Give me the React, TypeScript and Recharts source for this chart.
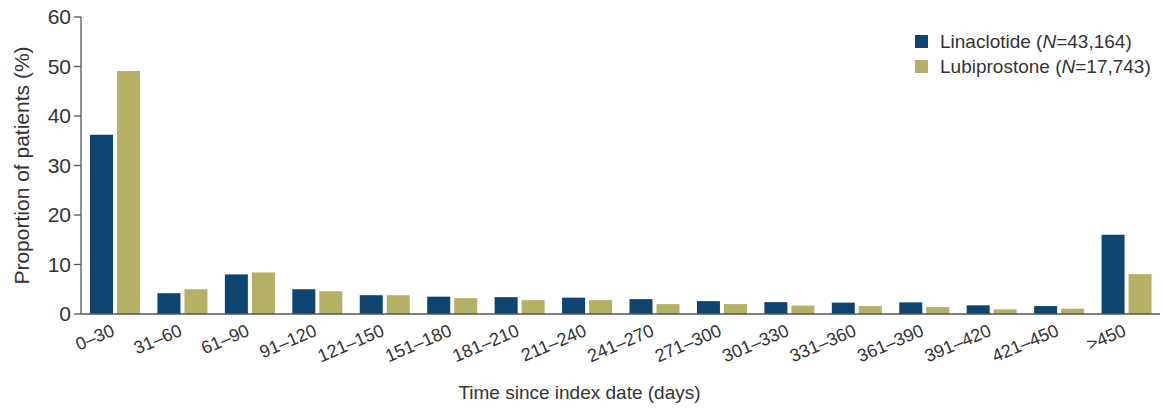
import React from 'react';
import { BarChart, Bar, XAxis, YAxis, Label } from 'recharts';

// Time since index date (days)
const categories = [
  '0–30', '31–60', '61–90', '91–120', '121–150', '151–180', '181–210', '211–240',
  '241–270', '271–300', '301–330', '331–360', '361–390', '391–420', '421–450', '>450'
];

// Proportion of patients (%)
const linaclotide = [36.2, 4.2, 8.0, 5.0, 3.8, 3.5, 3.4, 3.3, 3.0, 2.6, 2.4, 2.3, 2.35, 1.75, 1.6, 16.0];
const lubiprostone = [49.1, 5.0, 8.4, 4.6, 3.8, 3.2, 2.8, 2.8, 2.0, 2.0, 1.7, 1.6, 1.4, 0.95, 1.07, 8.06];

const yTicks = [0, 10, 20, 30, 40, 50, 60];

const BLUE = '#0d4470';
const OLIVE = '#b4b065';
const TEXT = '#333333';
const AXIS = '#555555';
const FONT = '"Liberation Sans", Arial, sans-serif';

const data = categories.map((name, i) => ({
  name,
  linaclotide: linaclotide[i],
  lubiprostone: lubiprostone[i]
}));

const legendItems = [
  { color: BLUE, name: 'Linaclotide', n: '43,164' },
  { color: OLIVE, name: 'Lubiprostone', n: '17,743' }
];

// slanted category labels, end of the text sits near the group centre
const SlantTick = ({ x, payload }: any) => (
  <g transform={`translate(${x + 1},${335})`}>
    <text
      x={0}
      y={0}
      textAnchor="end"
      transform="rotate(-23)"
      fill={TEXT}
      fontSize={18}
      fontFamily={FONT}
    >
      {payload.value}
    </text>
  </g>
);

const App: React.FC = () => {
  return (
    <div style={{ position: 'absolute', left: 0, top: 0, width: 1163, height: 408, background: '#fff' }}>
      <BarChart
        width={1163}
        height={408}
        data={data}
        margin={{ top: 17, right: 3, left: 0, bottom: 0 }}
        barSize={23}
        barGap={4}
      >
        <XAxis
          dataKey="name"
          height={94}
          tickLine={false}
          stroke={AXIS}
          strokeWidth={1.3}
          interval={0}
          tick={<SlantTick />}
        >
          <Label
            value="Time since index date (days)"
            position="center"
            dx={-41}
            dy={31}
            style={{ fill: TEXT, fontSize: 19, fontFamily: FONT }}
          />
        </XAxis>
        <YAxis
          width={81}
          domain={[0, 60]}
          ticks={yTicks}
          interval={0}
          tickSize={7}
          tickMargin={3}
          stroke={AXIS}
          strokeWidth={1.3}
          tick={{ fill: TEXT, fontSize: 21, fontFamily: FONT }}
        >
          <Label
            value="Proportion of patients (%)"
            angle={-90}
            position="center"
            dx={-19}
            style={{ fill: TEXT, fontSize: 21, fontFamily: FONT, textAnchor: 'middle' }}
          />
        </YAxis>
        <Bar dataKey="linaclotide" name="Linaclotide" fill={BLUE} isAnimationActive={false} />
        <Bar dataKey="lubiprostone" name="Lubiprostone" fill={OLIVE} isAnimationActive={false} />
      </BarChart>
      {/* legend sits over the plot, top right */}
      <div
        style={{
          position: 'absolute',
          left: 915,
          top: 29,
          fontFamily: FONT,
          fontSize: 19,
          color: TEXT
        }}
      >
        {legendItems.map((item) => (
          <div key={item.name} style={{ display: 'flex', alignItems: 'center', height: 25 }}>
            <span
              style={{ display: 'inline-block', width: 13, height: 13, background: item.color, marginRight: 12 }}
            />
            <span>
              {item.name} (<i>N</i>={item.n})
            </span>
          </div>
        ))}
      </div>
    </div>
  );
};

export default App;
